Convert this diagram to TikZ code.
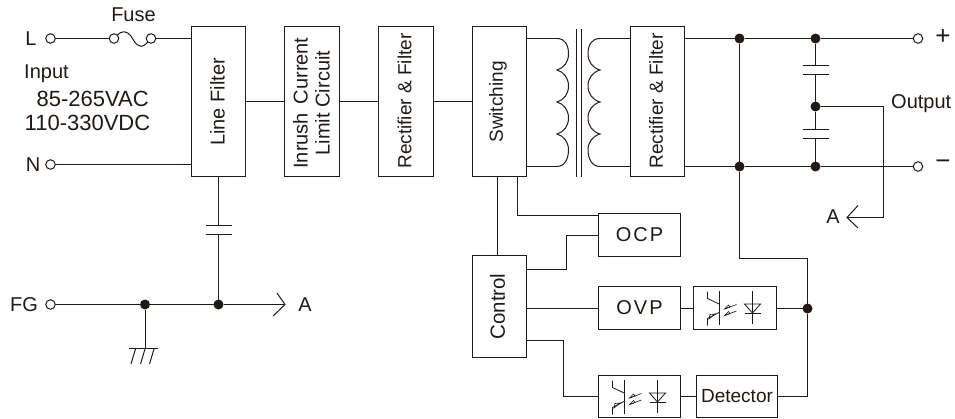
\documentclass[tikz,border=0pt]{standalone}
\usepackage{fontspec}
\setmainfont{Liberation Sans}
\definecolor{ink}{HTML}{231815}
\tikzset{
  x=1pt,y=-1pt,
  fs/.style={font=\fontsize{#1}{22}\selectfont},
  wire/.style={draw=ink,line width=1pt},
  blk/.style={draw=ink,line width=1pt,rectangle,inner sep=0,outer sep=0,text=ink,fs=19},
  vtext/.style={rotate=90,align=center,text=ink,fs=19},
  lab/.style={text=ink,inner sep=0,fs=20},
  term/.style={circle,draw=ink,fill=white,line width=1pt,minimum size=9.5pt,inner sep=0,outer sep=0},
  dot/.style={circle,fill=ink,minimum size=10pt,inner sep=0,outer sep=0},
  thin/.style={draw=ink,line width=0.65pt},
}
\newcommand{\mycoil}[2]{% bulge x, cusp x
  \draw[wire] (#2,38.5) .. controls ({#2+0.7*(#1-#2)},38.5) and (#1,45) .. (#1,54)
    .. controls (#1,62) and ({#2+0.6*(#1-#2)},68) .. (#2,70)
    .. controls ({#2+0.6*(#1-#2)},72) and (#1,78) .. (#1,86)
    .. controls (#1,94) and ({#2+0.6*(#1-#2)},100) .. (#2,102)
    .. controls ({#2+0.6*(#1-#2)},104) and (#1,110) .. (#1,118)
    .. controls (#1,126) and ({#2+0.6*(#1-#2)},132) .. (#2,134)
    .. controls ({#2+0.6*(#1-#2)},136) and (#1,142) .. (#1,150)
    .. controls (#1,158) and ({#2+0.7*(#1-#2)},166.5) .. (#2,166.5);
}
\newcommand{\myopto}[2]{% box left, box top
  \begin{scope}[shift={(#1,#2)}]
    \draw[thin,line width=0.9pt] (25.5,4) -- (25.5,38);
    \draw[thin,line width=0.8pt] (14,5) -- (14,12) -- (25.5,17.5);
    \draw[thin,line width=0.8pt] (14,39) -- (14,32) -- (25.5,26);
    \draw[thin] (15.5,32.5) -- (21.5,27.5) -- (16.5,28) -- cycle;
    \draw[thin] (31,22.5) -- (43,18);
    \draw[thin] (31,22.5) -- (35,18.5) -- (36.5,20.5) -- cycle;
    \draw[thin] (31,29) -- (43,24.5);
    \draw[thin] (31,29) -- (35,25) -- (36.5,27) -- cycle;
    \draw[thin,line width=0.8pt] (59,4.5) -- (59,37);
    \draw[thin,line width=0.8pt] (51,17.5) -- (67,17.5) -- (59,26.5) -- cycle;
    \draw[thin,line width=0.8pt] (51,26.5) -- (67,26.5);
  \end{scope}
}
\begin{document}
\begin{tikzpicture}
\useasboundingbox (0,0) rectangle (955,418);
% blocks
\node[blk,minimum width=54pt,minimum height=150pt] (lf) at (218.5,101.5) {};
\node[vtext,fs=20] at (217.5,102) {Line Filter};
\node[blk,minimum width=55pt,minimum height=150pt] (ir) at (312,101.5) {};
\node[vtext,fs=20] at (311.5,103) {Inrush\, Current\\Limit Circuit};
\node[blk,minimum width=55pt,minimum height=150pt] (rf) at (406,101.5) {};
\node[vtext] at (404.5,101) {Rectifier \& Filter};
\node[blk,minimum width=54pt,minimum height=150pt] (sw) at (499.5,101.5) {};
\node[vtext] at (498,102) {Switching};
\node[blk,minimum width=54pt,minimum height=150pt] (rs) at (657.5,101.5) {};
\node[vtext] at (656,101) {Rectifier \& Filter};
\node[blk,minimum width=54pt,minimum height=102pt] (ct) at (499.5,306.5) {};
\node[vtext,fs=20.5] at (497.5,306.5) {Control};
\node[blk,fs=20,minimum width=82pt,minimum height=43pt] (ocp) at (639.5,235) {\addfontfeature{LetterSpace=10}OCP};
\node[blk,fs=20,minimum width=82pt,minimum height=43pt] (ovp) at (639.5,308) {\addfontfeature{LetterSpace=10}OVP};
\node[blk,minimum width=83pt,minimum height=43pt] (op1) at (735,308) {};
\node[blk,minimum width=82pt,minimum height=42pt] (op2) at (639.5,396.5) {};
\node[blk,fs=19,minimum width=81pt,minimum height=42pt] (det) at (737,396.5) {Detector};
\myopto{693.5}{286.5}
\myopto{598.5}{375.5}
% terminals
\node[term] (tL) at (50.5,38.5) {};
\node[term] (tN) at (50.5,164.5) {};
\node[term] (tFG) at (50.5,304.5) {};
\node[term] (tP) at (918,38.5) {};
\node[term] (tM) at (918,166.5) {};
\node[term] (fa) at (114,38.5) {};
\node[term] (fb) at (151,38.5) {};
% junctions
\node[dot] (j1) at (739.5,38.5) {};
\node[dot] (j2) at (815.5,38.5) {};
\node[dot] (j3) at (815.5,106.5) {};
\node[dot] (j4) at (739.5,166.5) {};
\node[dot] (j5) at (815.5,166.5) {};
\node[dot] (j6) at (807.5,308.5) {};
\node[dot] (j7) at (145,304.5) {};
\node[dot] (j8) at (218.5,304.5) {};
\coordinate (aR) at (285,304.5);
\coordinate (aL) at (847,217.5);
\coordinate (bend) at (883.5,217.5);
\coordinate (gnd) at (145,349);
% left wiring
\draw[wire] (tL) -- (fa);
\draw[wire] (fb) -- (fb -| lf.west);
\draw[wire] (fa.north east) .. controls (122,30) and (127,31) .. (131,36) .. controls (135,43) and (139,50) .. (146,44) -- (fb.south west);
\draw[wire] (tN) -- (tN -| lf.west);
\draw[wire] (tFG) -- (j7) -- (j8) -- (aR);
\draw[wire] (277,293) -- (aR) -- (273,316);
\draw[wire] (lf.south) -- (218.5,225.5);
\draw[wire] (218.5,234.5) -- (j8);
\draw[wire] (206,225.5) -- (231.5,225.5);
\draw[wire] (206,234.5) -- (231.5,234.5);
\draw[wire] (j7) -- (gnd);
\draw[wire] (128.5,348.5) -- (158,348.5);
\draw[wire] (135.5,349) -- (131,364);
\draw[wire] (145,349) -- (140.5,364);
\draw[wire] (154,349) -- (149.5,364);
% chain
\draw[wire] (lf.east) -- (ir.west);
\draw[wire] (ir.east) -- (rf.west);
\draw[wire] (rf.east) -- (sw.west);
% transformer
\draw[wire] (sw.east |- 0,38.5) -- (557,38.5);
\draw[wire] (sw.east |- 0,166.5) -- (557,166.5);
\mycoil{568.5}{557}
\mycoil{588}{600}
\draw[wire] (600,38.5) -- (600,38.5 -| rs.west);
\draw[wire] (600,166.5) -- (600,166.5 -| rs.west);
\draw[wire] (576.5,29) -- (576.5,177);
\draw[wire] (581.5,29) -- (581.5,177);
% output
\draw[wire] (rs.east |- 0,38.5) -- (j1) -- (j2) -- (tP);
\draw[wire] (rs.east |- 0,166.5) -- (j4) -- (j5) -- (tM);
\draw[wire] (j1) -- (j4);
\draw[wire] (j2) -- (815.5,65.5);
\draw[wire] (803,65.5) -- (829,65.5);
\draw[wire] (803,74.5) -- (829,74.5);
\draw[wire] (815.5,74.5) -- (j3);
\draw[wire] (j3) -- (815.5,129.5);
\draw[wire] (803,129.5) -- (829,129.5);
\draw[wire] (803,138.5) -- (829,138.5);
\draw[wire] (815.5,138.5) -- (j5);
\draw[wire] (j3) -| (bend) -- (aL);
\draw[wire] (858,205.5) -- (aL) -- (858,228);
% lower wiring
\draw[wire] (497.5,176.5) -- (497.5,255.5);
\draw[wire] (517.5,176.5) |- (598.5,215.5);
\draw[wire] (598.5,235.5) -| (566.5,269.5) -- (526.5,269.5);
\draw[wire] (ovp.west |- j6) -- (ct.east |- j6);
\draw[wire] (ovp.east |- j6) -- (op1.west |- j6);
\draw[wire] (op1.east |- j6) -- (j6);
\draw[wire] (op2.west) -| (563.5,340.5) -- (526.5,340.5);
\draw[wire] (op2.east) -- (det.west);
\draw[wire] (det.east) -| (j6);
\draw[wire] (j4) -- (739.5,258.5) -| (j6);
% labels
\node[lab] at (133.5,15) {Fuse};
\node[lab] at (31,38.5) {L};
\node[lab] at (33,164.5) {N};
\node[lab] at (24,304.5) {FG};
\node[lab,anchor=west] at (24,73.5) {Input};
\node[lab,anchor=west,fs=22] at (36.5,98.5) {85-265VAC};
\node[lab,anchor=west,fs=22] at (24.5,122.5) {110-330VDC};
\node[lab] at (305,304.5) {A};
\node[lab] at (833,216.5) {A};
\node[lab,anchor=west] at (891,104) {Output};
\node[lab,fs=26] at (943,37) {+};
\node[lab,fs=26] at (943,165) {−};
\end{tikzpicture}
\end{document}
